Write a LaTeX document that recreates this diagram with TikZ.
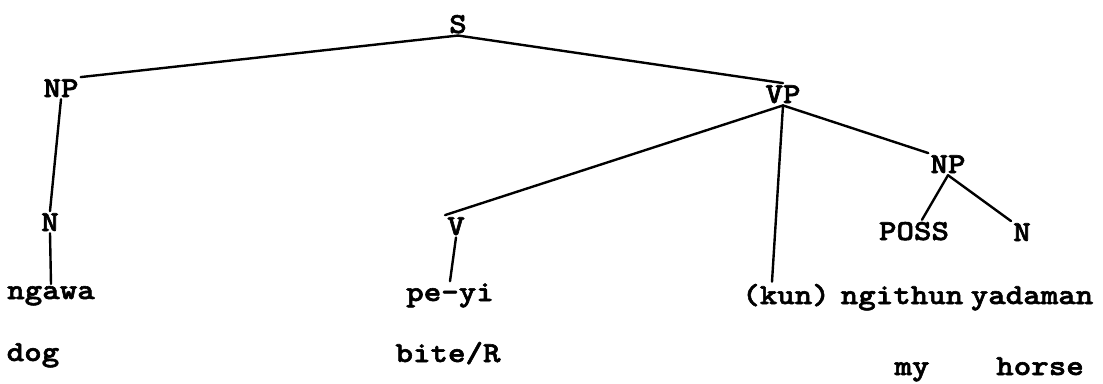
\documentclass[tikz,border=0pt]{standalone}
\usepackage{fontspec}
\usepackage{tikz}
\usetikzlibrary{positioning, calc}
\newfontfamily\typewriter{lmmonolt10-bold.otf}[FakeStretch=1.15, FakeBold=2]
\tikzset{
    cat/.style={inner sep=2pt, anchor=base, font=\typewriter\fontsize{29pt}{29pt}\selectfont},
    word/.style={cat},
    gloss/.style={cat},
    branch/.style={line width=2.4pt, line cap=round, black}
}

\begin{document}
\begin{tikzpicture}[x=1pt, y=-1pt]
    \fill[white] (0,0) rectangle (1103,379);

    % Root
    \node[cat] (s) at (458,33) {S};

    % Subject
    \node[cat] (np1) at ($(s.base)+(-397,64)$) {NP};
    \node[cat] (n1) at ($(np1.base)+(-11,134)$) {N};
    \node[word] (ngawa) at ($(n1.base)+(1,68)$) {ngawa};
    \node[gloss] (dog) at ($(ngawa.base)+(-18,62)$) {dog};

    % Predicate
    \node[cat] (vp) at ($(s.base)+(325,70)$) {VP};
    \node[cat] (v) at ($(vp.base)+(-327,132)$) {V};
    \node[word] (peyi) at ($(v.base)+(-6,66)$) {pe-yi};
    \node[gloss] (bite) at ($(peyi.base)+(-2,61)$) {bite/R};
    \node[word] (kun) at ($(vp.base)+(3,201)$) {(kun)};

    % Object
    \node[cat] (np2) at ($(vp.base)+(165,70)$) {NP};
    \node[cat] (poss) at ($(np2.base)+(-34,67)$) {POSS};
    \node[cat] (n2) at ($(np2.base)+(74,68)$) {N};
    \node[word] (ngithun) at ($(poss.base)+(-12,64)$) {ngithun};
    \node[word] (yadaman) at ($(n2.base)+(10,63)$) {yadaman};
    \node[gloss] (my) at ($(ngithun.base)+(10,71)$) {my};
    \node[gloss] (horse) at ($(yadaman.base)+(8,71)$) {horse};

    % Branches
    \draw[branch] (s.south) -- (np1.north east);
    \draw[branch] (s.south) -- (vp.north);
    \draw[branch] (np1.south) -- (n1.north);
    \draw[branch] (n1.south) -- (ngawa.north);
    \draw[branch] (vp.south) -- (v.north west);
    \draw[branch] (vp.south) -- ([xshift=-14pt]kun.north);
    \draw[branch] (vp.south) -- (np2.north west);
    \draw[branch] (v.south) -- (peyi.north);
    \draw[branch] (np2.south) -- ([xshift=8pt]poss.north);
    \draw[branch] (np2.south) -- (n2.north west);
\end{tikzpicture}
\end{document}
